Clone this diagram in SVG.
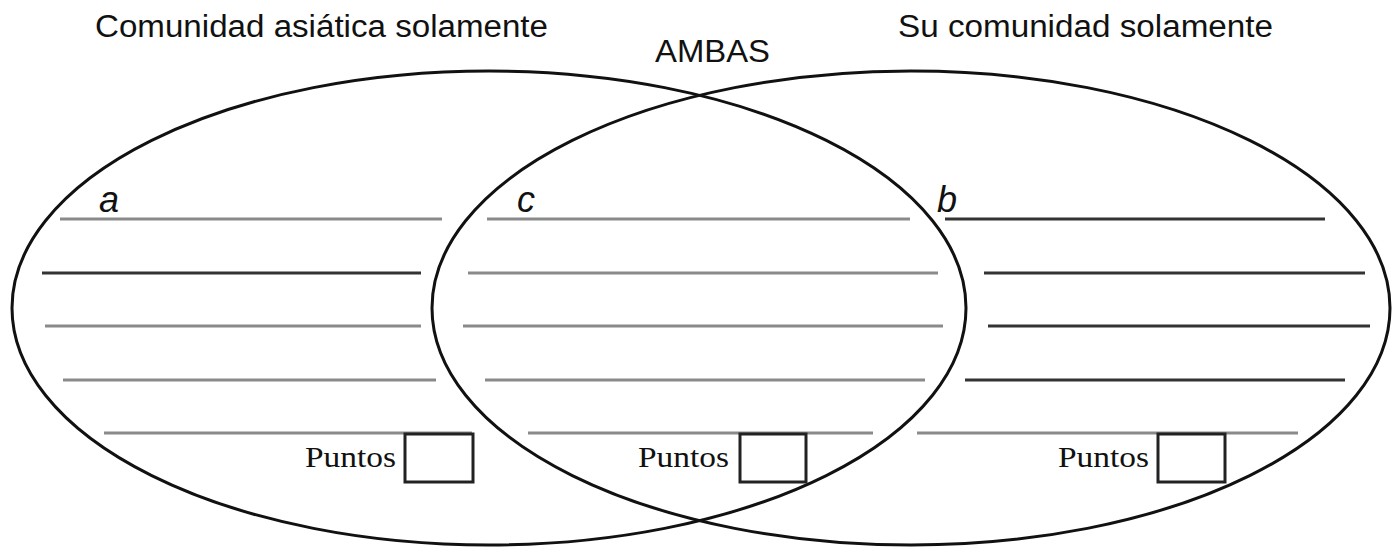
<svg xmlns="http://www.w3.org/2000/svg" width="1397" height="548" viewBox="0 0 1397 548">
<style>
.ring{fill:none;stroke:#111;stroke-width:3}
.title{font-family:"Liberation Sans",Arial,sans-serif;font-size:31px;fill:#111}
.letter{font-family:"Liberation Sans",Arial,sans-serif;font-size:36px;font-style:italic;fill:#111}
.pts{font-family:"Liberation Serif","Times New Roman",serif;font-size:29px;fill:#111}
.lg{stroke:#8a8a8a;stroke-width:3}
.ld{stroke:#333;stroke-width:3}
.box{fill:none;stroke:#222;stroke-width:3}
</style>
<rect width="1397" height="548" fill="#fff"/>
<g id="circle-left"><ellipse class="ring" cx="489" cy="308" rx="477" ry="237"/></g>
<g id="circle-right"><ellipse class="ring" cx="911" cy="308" rx="479" ry="237"/></g>
<g id="titles">
<text class="title" x="95" y="37" textLength="453" lengthAdjust="spacingAndGlyphs">Comunidad asiática solamente</text>
<text class="title" x="655" y="62" textLength="115" lengthAdjust="spacingAndGlyphs">AMBAS</text>
<text class="title" x="898" y="37" textLength="375" lengthAdjust="spacingAndGlyphs">Su comunidad solamente</text>
</g>
<g id="region-a">
<text class="letter" x="99" y="212">a</text>
<line class="lg" x1="60" y1="219" x2="442" y2="219"/>
<line class="ld" x1="42" y1="273" x2="421" y2="273"/>
<line class="lg" x1="45" y1="326" x2="421" y2="326"/>
<line class="lg" x1="63" y1="380" x2="436" y2="380"/>
<line class="lg" x1="104" y1="433" x2="472" y2="433"/>
<text class="pts" x="305" y="467" textLength="91" lengthAdjust="spacingAndGlyphs">Puntos</text>
<rect class="box" x="405" y="434" width="68" height="48"/>
</g>
<g id="region-c">
<text class="letter" x="517" y="212">c</text>
<line class="lg" x1="487" y1="219" x2="910" y2="219"/>
<line class="lg" x1="468" y1="273" x2="938" y2="273"/>
<line class="lg" x1="463" y1="326" x2="943" y2="326"/>
<line class="lg" x1="485" y1="380" x2="925" y2="380"/>
<line class="lg" x1="528" y1="433" x2="873" y2="433"/>
<text class="pts" x="638" y="467" textLength="91" lengthAdjust="spacingAndGlyphs">Puntos</text>
<rect class="box" x="740" y="434" width="66" height="48"/>
</g>
<g id="region-b">
<text class="letter" x="937" y="212">b</text>
<line class="ld" x1="945" y1="219" x2="1325" y2="219"/>
<line class="ld" x1="984" y1="273" x2="1365" y2="273"/>
<line class="ld" x1="988" y1="326" x2="1370" y2="326"/>
<line class="ld" x1="965" y1="380" x2="1345" y2="380"/>
<line class="lg" x1="917" y1="433" x2="1298" y2="433"/>
<text class="pts" x="1058" y="467" textLength="91" lengthAdjust="spacingAndGlyphs">Puntos</text>
<rect class="box" x="1158" y="434" width="67" height="48"/>
</g>
</svg>
